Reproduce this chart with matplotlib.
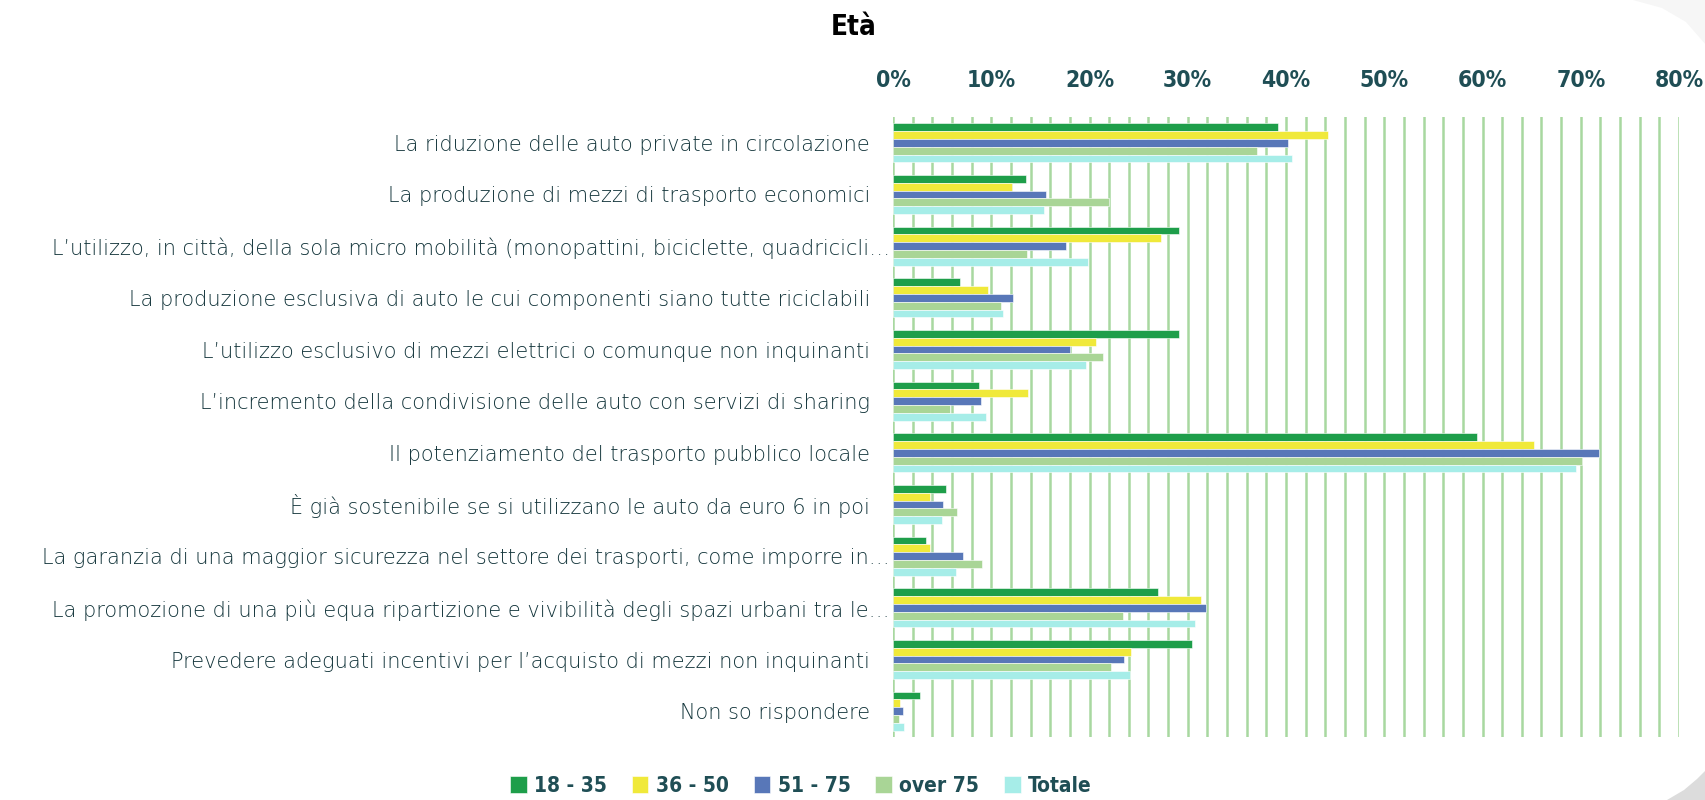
import matplotlib
matplotlib.use("Agg")
import matplotlib.pyplot as plt
from matplotlib.patches import Polygon
from matplotlib.transforms import ScaledTranslation
import numpy as np

categories = [
    "La riduzione delle auto private in circolazione",
    "La produzione di mezzi di trasporto economici",
    "L’utilizzo, in città, della sola micro mobilità (monopattini, biciclette, quadricicli…",
    "La produzione esclusiva di auto le cui componenti siano tutte riciclabili",
    "L’utilizzo esclusivo di mezzi elettrici o comunque non inquinanti",
    "L’incremento della condivisione delle auto con servizi di sharing",
    "Il potenziamento del trasporto pubblico locale",
    "È già sostenibile se si utilizzano le auto da euro 6 in poi",
    "La garanzia di una maggior sicurezza nel settore dei trasporti, come imporre in…",
    "La promozione di una più equa ripartizione e vivibilità degli spazi urbani tra le…",
    "Prevedere adeguati incentivi per l’acquisto di mezzi non inquinanti",
    "Non so rispondere",
]
series_names = ["18 - 35", "36 - 50", "51 - 75", "over 75", "Totale"]
v_18_35 = [39.2, 13.5, 29.1, 6.8, 29.1, 8.8, 59.4, 5.4, 3.4, 27.0, 30.4, 2.7]
v_36_50 = [44.3, 12.1, 27.3, 9.7, 20.7, 13.7, 65.2, 3.8, 3.8, 31.3, 24.2, 0.7]
v_51_75 = [40.2, 15.6, 17.6, 12.2, 18.0, 9.0, 71.9, 5.1, 7.1, 31.9, 23.5, 1.0]
v_over75 = [37.0, 22.0, 13.6, 11.0, 21.4, 5.8, 70.1, 6.5, 9.1, 23.4, 22.2, 0.6]
v_totale = [40.6, 15.4, 19.8, 11.2, 19.6, 9.5, 69.5, 5.0, 6.4, 30.7, 24.1, 1.1]
tick_values = [0, 10, 20, 30, 40, 50, 60, 70, 80]
tick_labels = ["0%", "10%", "20%", "30%", "40%", "50%", "60%", "70%", "80%"]

series = [v_18_35, v_36_50, v_51_75, v_over75, v_totale]
colors = ["#1E9E4A", "#F0E93A", "#5877B8", "#A9D596", "#A6EDE8"]

label_color = "#12343A"
tick_color = "#1F4E55"
bold_font = ["DejaVu Sans"]
text_font = ["DejaVu Sans"]

W, H = 1706, 800
fig = plt.figure(figsize=(W / 100, H / 100), dpi=100)

# slide background decorations (corners)
fig.patches.append(Polygon(
    [(1633 / W, 1), (1662 / W, 1 - 8 / H), (1686 / W, 1 - 22 / H), (1706 / W, 1 - 45 / H), (1, 1)],
    closed=True, transform=fig.transFigure, facecolor="#F6F6F6", edgecolor="none", zorder=0))
fig.patches.append(Polygon(
    [(1667 / W, 0), (1684 / W, 10 / H), (1697 / W, 21 / H), (1706 / W, 30 / H), (1, 0)],
    closed=True, transform=fig.transFigure, facecolor="#DCDCDC", edgecolor="none", zorder=0))

ax = fig.add_axes([893 / W, 1 - 737 / H, (1679 - 893) / W, (737 - 117) / H])
ax.patch.set_alpha(0)

y = np.arange(len(categories))
h = 0.152
for i, (vals, c, name) in enumerate(zip(series, colors, series_names)):
    ax.barh(y + (i - 2) * h, vals, height=h, color=c, label=name, zorder=3,
            edgecolor="white", linewidth=0.4)

ax.set_xlim(0, 80)
ax.set_ylim(len(categories) - 0.5, -0.5)
for gx in np.arange(0, 81, 2):
    ax.axvline(gx, color="#A8D8A0", lw=1.8, zorder=1)

for s in ax.spines.values():
    s.set_visible(False)

ax.xaxis.tick_top()
ax.set_xticks(tick_values)
ax.set_xticklabels(tick_labels, fontfamily=bold_font, fontweight="bold",
                   fontstretch="condensed", fontsize=16.5, color=tick_color)
ax.tick_params(axis="x", length=0, pad=18)
ax.set_yticks(y)
ax.set_yticklabels(categories, fontfamily=text_font, fontweight=200,
                   fontsize=15, color=label_color)
ax.tick_params(axis="y", length=0, pad=16.5)

# truncated labels (ending in an ellipsis) sit closer to the axis
shift = ScaledTranslation(20 / 100, 0, fig.dpi_scale_trans)
for lab in ax.get_yticklabels():
    if lab.get_text().endswith("…"):
        lab.set_transform(lab.get_transform() + shift)

fig.text(854 / W, 1 - 27 / H, "Età", ha="center", va="center",
         fontfamily=bold_font, fontweight="bold", fontstretch="condensed",
         fontsize=20, color="black")

leg = fig.legend(loc="center", bbox_to_anchor=(801 / W, 1 - 786 / H),
                 ncol=5, frameon=False, handlelength=0.8, handleheight=0.9,
                 handletextpad=0.35, columnspacing=1.2,
                 prop={"family": bold_font, "weight": "bold",
                       "stretch": "condensed", "size": 15})
for t in leg.get_texts():
    t.set_color(tick_color)

fig.savefig("out.png", dpi=100, facecolor="white")
